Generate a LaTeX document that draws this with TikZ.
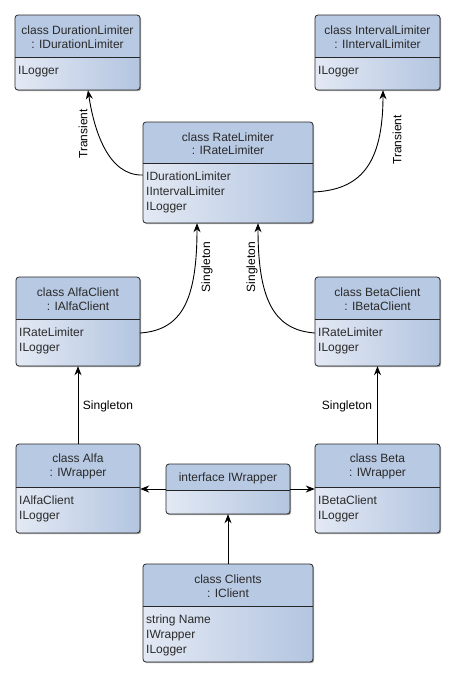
\documentclass[tikz,border=0pt]{standalone}
\usepackage{fontspec}
\setmainfont{Liberation Sans}
\usetikzlibrary{arrows.meta,shadows,fit}
\definecolor{headc}{HTML}{B8C9E3}
\definecolor{bodyL}{HTML}{E3E9F4}
\definecolor{bodyR}{HTML}{B3C5E0}
\definecolor{txt}{HTML}{2A2A2A}
\tikzset{
  boxline/.style={draw=black!85, line width=0.8pt},
  headtext/.style={font=\fontsize{12}{13.5}\selectfont, text=txt, align=center, inner sep=0pt},
  bodytext/.style={font=\fontsize{12}{15}\selectfont, text=txt, align=left, inner sep=0pt},
  conn/.style={draw=black, line width=0.9pt, -{Stealth[length=9pt,width=7pt]}},
  lbl/.style={font=\fontsize{12}{13}\selectfont, text=black, inner sep=0pt}
}
\newcommand\umlbox[8]{%
  \path[rounded corners=3pt, left color=bodyL, right color=bodyR,
        drop shadow={shadow xshift=1.2pt, shadow yshift=-1.2pt, opacity=0.35, fill=black}] (#2,#3) rectangle (#4,#5);
  \begin{scope}
    \clip[rounded corners=3pt] (#2,#3) rectangle (#4,#5);
    \fill[headc] (#2,#3) rectangle (#4,#6);
  \end{scope}
  \draw[boxline, rounded corners=3pt] (#2,#3) rectangle (#4,#5);
  \draw[boxline] (#2,#6) -- (#4,#6);
  \node[fit={(#2,#3) (#4,#5)}, inner sep=0pt] (#1) {};
  \node[headtext] at ({(#2+#4)/2},{(#3+#6)/2+1}) {#7};
  \node[bodytext, anchor=north west] at ({#2+3},{#6+9}) {#8};
}
\begin{document}
\begin{tikzpicture}[x=1pt,y=-1pt]
\useasboundingbox (0,0) rectangle (456,678);
\umlbox{dur}{15}{15}{140}{90}{57}{class DurationLimiter\\: IDurationLimiter}{ILogger}
\umlbox{int}{315}{15}{440}{90}{57}{class IntervalLimiter\\: IIntervalLimiter}{ILogger}
\umlbox{rate}{143}{122}{313}{223}{163}{class RateLimiter\\: IRateLimiter}{IDurationLimiter\\IIntervalLimiter\\ILogger}
\umlbox{ac}{16}{277}{140}{366}{319}{class AlfaClient\\: IAlfaClient}{IRateLimiter\\ILogger}
\umlbox{bc}{315}{277}{440}{366}{319}{class BetaClient\\: IBetaClient}{IRateLimiter\\ILogger}
\umlbox{alfa}{16}{444}{140}{533}{487}{class Alfa\\: IWrapper}{IAlfaClient\\ILogger}
\umlbox{beta}{315}{444}{440}{533}{487}{class Beta\\: IWrapper}{IBetaClient\\ILogger}
\umlbox{iw}{166}{464}{290}{514}{490}{interface IWrapper}{}
\umlbox{cl}{143}{564}{313}{662}{606}{class Clients\\: IClient}{string Name\\IWrapper\\ILogger}

\draw[conn] ([yshift=-2.5pt]rate.west) .. controls (108,176) and (94,130) .. ([xshift=10.5pt]dur.south);
\draw[conn] ([yshift=-19.5pt]rate.east) .. controls (360,190) and (383,165) .. ([xshift=5.5pt]int.south);
\draw[conn] ([yshift=-11.5pt]ac.east) .. controls (182,330) and (197,300) .. ([xshift=-31pt]rate.south);
\draw[conn] ([yshift=-11.5pt]bc.west) .. controls (274,330) and (258,300) .. ([xshift=30pt]rate.south);
\draw[conn] (alfa.north) -- (ac.south);
\draw[conn] (beta.north) -- (bc.south);
\draw[conn] (iw.west) -- (iw.west -| alfa.east);
\draw[conn] (iw.east) -- (iw.east -| beta.west);
\draw[conn] (cl.north) -- (iw.south);

\node[lbl, rotate=90] (l1) at (83,134) {Transient};
\node[lbl, rotate=90] (l2) at (397,140) {Transient};
\node[lbl, rotate=90] (l3) at (207,267) {Singleton};
\node[lbl, rotate=90] (l4) at (252,267) {Singleton};
\node[lbl] (l5) at (108,406) {Singleton};
\node[lbl] (l6) at (347,406) {Singleton};
\end{tikzpicture}
\end{document}
